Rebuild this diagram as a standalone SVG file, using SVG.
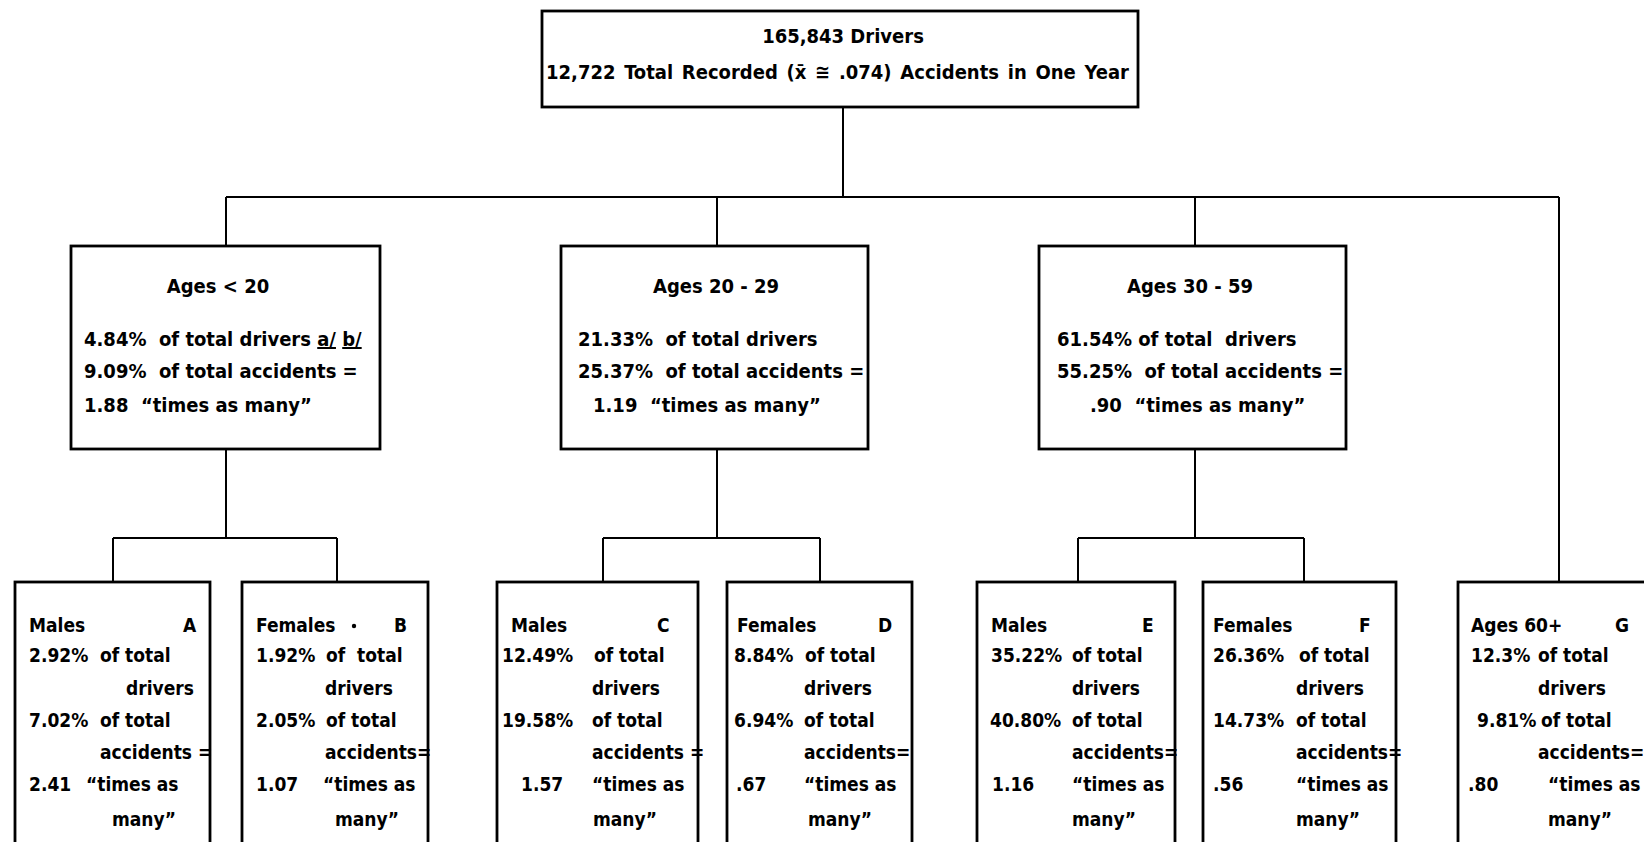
<svg xmlns="http://www.w3.org/2000/svg" width="1644" height="842" viewBox="0 0 1644 842">
<style>
.bg{fill:#fff}
.box{fill:#fff;stroke:#000;stroke-width:2.8}
.con{fill:none;stroke:#000;stroke-width:2}
text{font-family:"DejaVu Sans Condensed","Liberation Sans Narrow","Liberation Sans",sans-serif;font-weight:bold;font-size:19px;fill:#000;white-space:pre}
.c{text-anchor:middle}
.m{font-size:20px}
.t{font-size:20px}
</style>
<rect class="bg" x="0" y="0" width="1644" height="842"/>
<g id="connectors">
<path class="con" d="M843 107V197M226 197H1559M226 197V246M717 197V246M1195 197V246M1559 197V582"/>
<path class="con" d="M226 449V538M113 538H337M113 538V582M337 538V582"/>
<path class="con" d="M717 449V538M603 538H820M603 538V582M820 538V582"/>
<path class="con" d="M1195 449V538M1078 538H1304M1078 538V582M1304 538V582"/>
</g>
<g id="root">
<rect class="box" x="542" y="11" width="596" height="96"/>
<text class="c t" x="843" y="43">165,843 Drivers</text>
<text class="t" x="546" y="79" word-spacing="2.5">12,722 Total Recorded (x̄ ≅ .074) Accidents in One Year</text>
</g>
<g id="age-under20">
<rect class="box" x="71" y="246" width="309" height="203"/>
<text class="c m" x="218" y="293">Ages &lt; 20</text>
<text class="m" x="84" y="346">4.84%  of total drivers <tspan text-decoration="underline">a/</tspan> <tspan text-decoration="underline">b/</tspan></text>
<text class="m" x="84" y="378">9.09%  of total accidents =</text>
<text class="m" x="84" y="412">1.88  “times as many”</text>
</g>
<g id="age-20-29">
<rect class="box" x="561" y="246" width="307" height="203"/>
<text class="c m" x="716" y="293">Ages 20 - 29</text>
<text class="m" x="578" y="346">21.33%  of total drivers</text>
<text class="m" x="578" y="378">25.37%  of total accidents =</text>
<text class="m" x="593" y="412">1.19  “times as many”</text>
</g>
<g id="age-30-59">
<rect class="box" x="1039" y="246" width="307" height="203"/>
<text class="c m" x="1190" y="293">Ages 30 - 59</text>
<text class="m" x="1057" y="346">61.54% of total  drivers</text>
<text class="m" x="1057" y="378">55.25%  of total accidents =</text>
<text class="m" x="1090" y="412">.90  “times as many”</text>
</g>
<g id="node-A">
<rect class="box" x="15" y="582" width="195" height="275"/>
<text x="29" y="632">Males</text><text x="183" y="632">A</text>
<text x="29" y="662">2.92%</text><text x="100" y="662">of total</text>
<text x="126" y="695">drivers</text>
<text x="29" y="727">7.02%</text><text x="100" y="727">of total</text>
<text x="100" y="759">accidents =</text>
<text x="29" y="791">2.41</text><text x="86" y="791">“times as</text>
<text x="112" y="826">many”</text>
</g>
<g id="node-B">
<rect class="box" x="242" y="582" width="186" height="275"/>
<text x="256" y="632">Females</text><circle cx="354" cy="626" r="2.2" fill="#000"/><text x="394" y="632">B</text>
<text x="256" y="662">1.92%</text><text x="326" y="662">of  total</text>
<text x="325" y="695">drivers</text>
<text x="256" y="727">2.05%</text><text x="326" y="727">of total</text>
<text x="325" y="759">accidents=</text>
<text x="256" y="791">1.07</text><text x="323" y="791">“times as</text>
<text x="335" y="826">many”</text>
</g>
<g id="node-C">
<rect class="box" x="497" y="582" width="201" height="275"/>
<text x="511" y="632">Males</text><text x="657" y="632">C</text>
<text x="502" y="662">12.49%</text><text x="594" y="662">of total</text>
<text x="592" y="695">drivers</text>
<text x="502" y="727">19.58%</text><text x="592" y="727">of total</text>
<text x="592" y="759">accidents =</text>
<text x="521" y="791">1.57</text><text x="592" y="791">“times as</text>
<text x="593" y="826">many”</text>
</g>
<g id="node-D">
<rect class="box" x="727" y="582" width="185" height="275"/>
<text x="737" y="632">Females</text><text x="878" y="632">D</text>
<text x="734" y="662">8.84%</text><text x="805" y="662">of total</text>
<text x="804" y="695">drivers</text>
<text x="734" y="727">6.94%</text><text x="804" y="727">of total</text>
<text x="804" y="759">accidents=</text>
<text x="736" y="791">.67</text><text x="804" y="791">“times as</text>
<text x="808" y="826">many”</text>
</g>
<g id="node-E">
<rect class="box" x="977" y="582" width="198" height="275"/>
<text x="991" y="632">Males</text><text x="1142" y="632">E</text>
<text x="991" y="662">35.22%</text><text x="1072" y="662">of total</text>
<text x="1072" y="695">drivers</text>
<text x="990" y="727">40.80%</text><text x="1072" y="727">of total</text>
<text x="1072" y="759">accidents=</text>
<text x="992" y="791">1.16</text><text x="1072" y="791">“times as</text>
<text x="1072" y="826">many”</text>
</g>
<g id="node-F">
<rect class="box" x="1203" y="582" width="193" height="275"/>
<text x="1213" y="632">Females</text><text x="1359" y="632">F</text>
<text x="1213" y="662">26.36%</text><text x="1299" y="662">of total</text>
<text x="1296" y="695">drivers</text>
<text x="1213" y="727">14.73%</text><text x="1296" y="727">of total</text>
<text x="1296" y="759">accidents=</text>
<text x="1213" y="791">.56</text><text x="1296" y="791">“times as</text>
<text x="1296" y="826">many”</text>
</g>
<g id="node-G">
<rect class="box" x="1458" y="582" width="200" height="275"/>
<text x="1471" y="632">Ages 60+</text><text x="1615" y="632">G</text>
<text x="1471" y="662">12.3%</text><text x="1538" y="662">of total</text>
<text x="1538" y="695">drivers</text>
<text x="1477" y="727">9.81%</text><text x="1541" y="727">of total</text>
<text x="1538" y="759">accidents=</text>
<text x="1468" y="791">.80</text><text x="1548" y="791">“times as</text>
<text x="1548" y="826">many”</text>
</g>
</svg>
